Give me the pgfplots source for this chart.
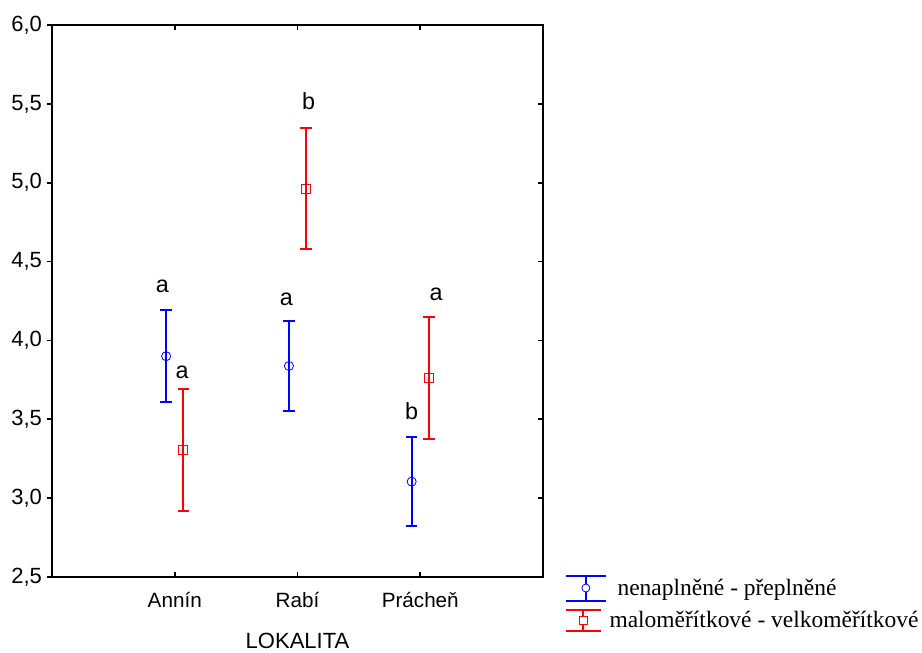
\documentclass[border=0pt]{standalone}
\usepackage{fontspec}
\setmainfont{Liberation Serif}
\setsansfont{Liberation Sans}
\usepackage{pgfplots}
\pgfplotsset{compat=1.18}
\definecolor{eblue}{RGB}{0,0,255}
\definecolor{ered}{RGB}{255,0,0}
\begin{document}
\begin{tikzpicture}
\pgfplotsset{
  base/.style={
    scale only axis, width=368.25pt, height=414pt,
    xmin=-1, xmax=3, ymin=2.5, ymax=6,
    axis line style={line width=1.2pt},
    major tick style={line width=1.2pt, black},
    major tick length=4pt,
  }
}
\begin{axis}[base,
  xtick={0,1,2}, xticklabels={Annín,Rabí,Prácheň},
  xtick pos=both, tick align=inside,
  ytick={2.5,3,...,6}, ytick pos=right, yticklabels={},
  xticklabel style={font=\fontsize{15.5}{18}\sffamily, yshift=-8pt},
  xlabel={LOKALITA}, xlabel style={font=\fontsize{16.5}{19}\sffamily, yshift=-12pt},
  legend style={draw=none, fill=none, at={(1.044,0.005)}, anchor=north west,
    font=\fontsize{17.6}{21}\selectfont, inner sep=0pt, row sep=5pt,
    cells={anchor=west}},
]
\addplot[eblue, only marks, mark=o, mark size=3.4pt,
  mark options={fill=white, line width=0.6pt},
  legend image code/.code={
    \draw[eblue, line width=1.5pt] (15pt,-9.4pt)--(15pt,9.4pt);
    \draw[eblue, line width=1.5pt] (0pt,9.4pt)--(30pt,9.4pt);
    \draw[eblue, line width=1.5pt] (0pt,-9.4pt)--(30pt,-9.4pt);
    \draw[eblue, line width=0.6pt, fill=white] (15pt,0pt) circle (3pt);
  },
  error bars/.cd, y dir=both, y explicit,
  error bar style={line width=1.5pt, eblue},
  error mark options={line width=1.5pt, mark size=4.3pt, eblue, rotate=90}]
coordinates {
  (-0.07,3.900) +- (0,0.290)
  (0.93,3.838) +- (0,0.286)
  (1.93,3.105) +- (0,0.282)
};
\addlegendentry{\hspace{6pt}nenaplněné - přeplněné}
\addplot[ered, only marks, mark=square, mark size=3.4pt,
  mark options={fill=white, line width=0.6pt},
  legend image code/.code={
    \draw[ered, line width=1.5pt] (13pt,-7.9pt)--(13pt,7.9pt);
    \draw[ered, line width=1.5pt] (0pt,7.9pt)--(26pt,7.9pt);
    \draw[ered, line width=1.5pt] (0pt,-7.9pt)--(26pt,-7.9pt);
    \draw[ered, line width=0.6pt, fill=white] (10pt,-3pt) rectangle (16pt,3pt);
  },
  error bars/.cd, y dir=both, y explicit,
  error bar style={line width=1.5pt, ered},
  error mark options={line width=1.5pt, mark size=4.3pt, ered, rotate=90}]
coordinates {
  (0.07,3.305) +- (0,0.387)
  (1.07,4.963) +- (0,0.384)
  (2.07,3.762) +- (0,0.387)
};
\addlegendentry{maloměřítkové - velkoměřítkové}
\begin{scope}[font=\fontsize{17.5}{20}\sffamily]
\node at (axis cs:-0.10,4.34) {a};
\node at (axis cs:0.06,3.80) {a};
\node at (axis cs:0.91,4.26) {a};
\node at (axis cs:1.09,5.52) {b};
\node at (axis cs:1.93,3.55) {b};
\node at (axis cs:2.13,4.29) {a};
\end{scope}
\coordinate (bbl) at (rel axis cs:-0.1059,-0.1286);
\coordinate (btr) at (rel axis cs:1.7719,1.0453);
\end{axis}
\begin{axis}[base,
  hide x axis,
  tick align=outside,
  ytick={2.5,3,...,6}, ytick pos=left,
  y tick label style={font=\fontsize{16.5}{19}\sffamily},
  /pgf/number format/fixed, /pgf/number format/fixed zerofill,
  /pgf/number format/precision=1, /pgf/number format/use comma,
  /pgf/number format/assume math mode=true,
]
\end{axis}
\path (bbl) rectangle (btr);
\end{tikzpicture}
\end{document}
